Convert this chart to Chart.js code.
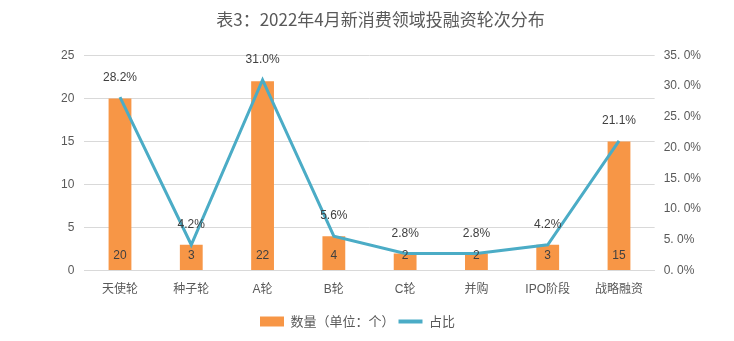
<!DOCTYPE html>
<html>
<head>
<meta charset="utf-8">
<script src="https://cdn.jsdelivr.net/npm/chart.js@4.4.0/dist/chart.umd.min.js"></script>
<style>
  html, body { margin: 0; padding: 0; background: #fff; }
  #wrap { width: 734px; height: 341px; }
</style>
</head>
<body>
<div id="wrap"><canvas id="myChart"></canvas></div>
<script>
const categories = ['天使轮', '种子轮', 'A轮', 'B轮', 'C轮', '并购', 'IPO阶段', '战略融资'];
const countValues = [20, 3, 22, 4, 2, 2, 3, 15];
const shareValues = [28.2, 4.2, 31.0, 5.6, 2.8, 2.8, 4.2, 21.1];

const FONT = "'Liberation Sans', 'Noto Sans CJK SC', sans-serif";
const GREY = '#595959';

// draws the value labels (bars: near the bottom, line: above the point)
const valueLabels = {
  id: 'valueLabels',
  afterLayout(chart) {
    // legend sits a bit left of centre in the original
    chart.legend.left -= 23;
    chart.legend.right -= 23;
  },
  afterDatasetsDraw(chart) {
    const ctx = chart.ctx;
    ctx.save();
    ctx.font = '12px ' + FONT;
    ctx.textAlign = 'center';
    ctx.textBaseline = 'middle';
    ctx.fillStyle = '#404040';
    const bars = chart.getDatasetMeta(0);
    bars.data.forEach((el, i) => {
      ctx.fillText(countValues[i], el.x, chart.scales.y.bottom - 15);
    });
    const pts = chart.getDatasetMeta(1);
    pts.data.forEach((el, i) => {
      ctx.fillText(shareValues[i].toFixed(1) + '%', el.x, el.y - 20);
    });
    ctx.restore();
  }
};

const chartData = {
  labels: categories,
  datasets: [
    {
      type: 'bar',
      label: '数量（单位：个）',
      data: countValues,
      backgroundColor: '#f79646',
      borderWidth: 0,
      barPercentage: 0.32,
      categoryPercentage: 1,
      yAxisID: 'y',
      order: 2
    },
    {
      type: 'line',
      label: '占比',
      data: shareValues,
      borderColor: '#4bacc6',
      backgroundColor: '#4bacc6',
      borderWidth: 3,
      pointRadius: 0,
      tension: 0,
      yAxisID: 'y1',
      order: 1
    }
  ]
};

new Chart(document.getElementById('myChart'), {
  data: chartData,
  options: {
    responsive: true,
    maintainAspectRatio: false,
    animation: false,
    layout: { padding: { left: 51, right: 24, top: 6, bottom: 3 } },
    scales: {
      x: {
        grid: { display: false },
        border: { color: '#d9d9d9' },
        ticks: { color: GREY, font: { family: FONT, size: 12 }, padding: 4 },
        afterFit(scale) { scale.height += 10; }
      },
      y: {
        position: 'left',
        min: 0,
        max: 25,
        ticks: { stepSize: 5, color: GREY, font: { family: FONT, size: 12 }, padding: 10 },
        grid: { color: '#d9d9d9', drawTicks: false },
        border: { display: false }
      },
      y1: {
        position: 'right',
        min: 0,
        max: 35,
        ticks: {
          stepSize: 5,
          color: GREY,
          font: { family: FONT, size: 12 },
          padding: 9,
          callback: v => v.toFixed(1).replace('.', '. ') + '%'
        },
        grid: { display: false, drawTicks: false },
        border: { display: false }
      }
    },
    plugins: {
      title: {
        display: true,
        text: '表3：2022年4月新消费领域投融资轮次分布',
        color: GREY,
        font: { family: "'Noto Sans CJK SC', sans-serif", size: 17, weight: 'normal' },
        padding: { top: 3, bottom: 26 }
      },
      legend: {
        position: 'bottom',
        labels: {
          color: GREY,
          font: { family: "'Noto Sans CJK SC', sans-serif", size: 13 },
          usePointStyle: true,
          pointStyleWidth: 24,
          boxHeight: 10,
          padding: 4,
          generateLabels(chart) {
            const items = Chart.defaults.plugins.legend.labels.generateLabels(chart);
            items.sort((a, b) => a.datasetIndex - b.datasetIndex);
            items[0].pointStyle = 'rect';
            items[1].pointStyle = 'line';
            items[1].lineWidth = 4;
            return items;
          }
        }
      },
      tooltip: { enabled: false }
    }
  },
  plugins: [valueLabels]
});
</script>
</body>
</html>
